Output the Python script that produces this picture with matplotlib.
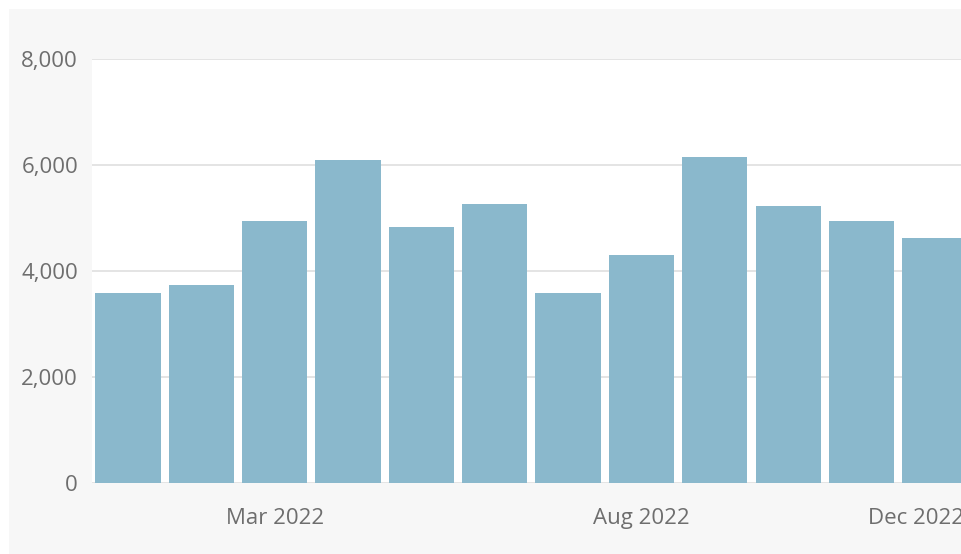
import matplotlib
matplotlib.use("Agg")
import matplotlib.pyplot as plt
import matplotlib.transforms as mtransforms
from matplotlib.patches import Rectangle

# monthly totals, Jan..Dec 2022
months = ["Jan 2022", "Feb 2022", "Mar 2022", "Apr 2022", "May 2022", "Jun 2022",
          "Jul 2022", "Aug 2022", "Sep 2022", "Oct 2022", "Nov 2022", "Dec 2022"]
values = [3580, 3730, 4940, 6090, 4830, 5270, 3590, 4300, 6150, 5230, 4950, 4620]
shown_months = ["Mar 2022", "Aug 2022", "Dec 2022"]
y_ticks = [0, 2000, 4000, 6000, 8000]

plt.rcParams['font.family'] = ['Open Sans', 'DejaVu Sans']

W, H = 962, 554
fig = plt.figure(figsize=(W / 100, H / 100), dpi=100, facecolor='white')

# grey panel behind the chart
fig.patches.append(Rectangle((9 / W, 0), 1.2, (H - 9) / H, transform=fig.transFigure,
                             facecolor='#f7f7f7', edgecolor='none', zorder=-10))

ax = fig.add_axes([92 / W, (H - 483) / H, 1 - 92 / W, (483 - 59) / H])
ax.set_facecolor('white')

x = list(range(len(months)))
ax.bar(x, values, width=0.89, color='#8ab8cc', zorder=3)

ax.set_xlim(-0.49, 11.37)
ax.set_ylim(0, 8000)
ax.set_yticks(y_ticks)
ax.set_yticklabels(['{:,}'.format(v) for v in y_ticks])
ax.set_xticks([months.index(m) for m in shown_months])
ax.set_xticklabels(shown_months)

ax.grid(axis='y', color='#dcdcdc', linewidth=1.1, zorder=0)
ax.set_axisbelow(True)
for s in ax.spines.values():
    s.set_visible(False)
ax.tick_params(axis='both', length=0, labelsize=16, labelcolor='#6e6e6e')
ax.tick_params(axis='y', pad=10)
ax.tick_params(axis='x', pad=18)

# last label is pulled left a bit, like the original
lab = ax.get_xticklabels()[-1]
lab.set_transform(lab.get_transform() + mtransforms.ScaledTranslation(-19 / 100, 0, fig.dpi_scale_trans))

fig.savefig('out.png', dpi=100, facecolor=fig.get_facecolor())
